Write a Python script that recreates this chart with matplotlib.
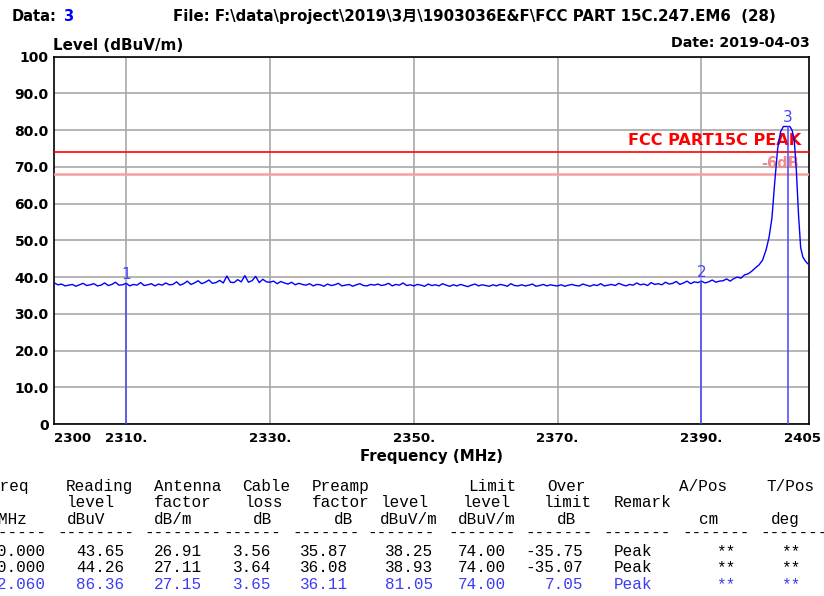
"""Radiated emission band-edge scan (FCC Part 15C), 2300-2405 MHz."""
import matplotlib
matplotlib.use("Agg")
import matplotlib.pyplot as plt
import numpy as np

W, H = 824, 596

# analyser sweep, 0.5 MHz step from 2300 MHz (noise floor part)
sweep_start = 2300.0
sweep_step = 0.5
sweep_levels = [
    38.4, 37.9, 38.1, 37.6, 37.8, 38.0, 37.5, 37.9, 38.3, 37.7,
    37.9, 38.2, 37.6, 37.8, 38.4, 37.7, 38.0, 38.6, 37.8, 37.9,
    38.3, 37.6, 38.0, 37.8, 38.5, 37.7, 37.9, 38.2, 37.6, 38.1,
    37.8, 38.4, 37.9, 38.0, 38.7, 37.8, 38.2, 38.9, 38.0, 38.4,
    39.0, 38.2, 38.6, 39.2, 38.3, 38.5, 39.1, 38.4, 40.3, 38.6,
    38.5, 39.3, 38.7, 40.4, 38.6, 39.0, 40.2, 38.5, 39.4, 38.7,
    38.6, 38.9, 38.2, 38.8, 38.4, 38.1, 38.6, 37.9, 38.3, 38.0,
    37.8, 38.2, 37.6, 38.0, 37.9, 37.5, 38.1, 37.7, 37.9, 38.3,
    37.6, 37.8, 38.0, 37.5, 37.9, 38.2, 37.7, 37.6, 38.0, 37.8,
    38.1, 37.7, 37.9, 38.3, 37.6, 38.0, 37.8, 38.4, 37.7, 37.9,
    37.6, 38.0, 37.8, 37.5, 38.1, 37.7, 37.9, 37.6, 38.2, 37.8,
    37.5, 37.9, 37.6, 38.0, 37.7, 37.4, 37.8, 38.1, 37.6, 37.9,
    37.7, 37.5, 37.9, 37.6, 38.0, 37.8, 37.5, 38.2, 37.7, 37.6,
    37.9, 37.6, 37.8, 38.1, 37.5, 37.7, 38.0, 37.6, 37.9, 37.7,
    37.6, 37.9, 37.5, 37.8, 38.0, 37.7, 37.6, 38.1, 37.8, 37.5,
    37.9, 37.7, 38.2, 37.6, 37.8, 38.0, 37.7, 38.3, 37.9, 37.6,
    38.0, 37.8, 38.4, 37.9, 38.1, 37.7, 38.5, 38.0, 38.2, 37.9,
    38.6, 38.1, 38.3, 38.8, 38.0, 38.4, 38.9, 38.2, 38.7, 38.5,
    38.9, 38.4, 38.7, 39.2, 38.6, 38.9,
]
# carrier skirt near the band edge
edge_freqs = [2393.0, 2393.5, 2394.0, 2394.5, 2395.0, 2395.5, 2396.0, 2396.5,
              2397.0, 2397.5, 2398.0, 2398.5, 2399.0, 2399.4, 2399.8, 2400.2,
              2400.6, 2401.0, 2401.4, 2402.3, 2402.6, 2402.9, 2403.2, 2403.5,
              2403.8, 2404.1, 2404.4, 2404.7, 2405.0]
edge_levels = [39.0, 39.5, 38.9, 39.6, 40.0, 39.7, 40.6, 40.9,
               41.6, 42.5, 43.3, 44.6, 47.5, 50.8, 56.0, 66.0,
               75.0, 79.5, 81.0, 81.0, 80.0, 77.5, 69.0, 57.0,
               48.0, 45.5, 44.5, 43.8, 43.3]

marker_ids = ["1", "2", "3"]
limit_level = 74.0
margin_db = 6.0
xtick_vals = [2310, 2330, 2350, 2370, 2390]
ytick_vals = [0, 10, 20, 30, 40, 50, 60, 70, 80, 90, 100]

# result table
freq_mhz = [2310.000, 2390.000, 2402.060]
reading = [43.65, 44.26, 86.36]
antenna = [26.91, 27.11, 27.15]
cable = [3.56, 3.64, 3.65]
preamp = [35.87, 36.08, 36.11]
level = [38.25, 38.93, 81.05]
limit = [74.00, 74.00, 74.00]
over = [-35.75, -35.07, 7.05]
remark = ["Peak", "Peak", "Peak"]
a_pos = ["**", "**", "**"]
t_pos = ["**", "**", "**"]

BLUE = "#0000ff"
MBLUE = "#4646ff"
SANS = ["DejaVu Sans", "Noto Sans CJK SC"]
MONO = "Liberation Mono"


def fx(px):
    return px / W


def fy(py):
    return 1 - py / H


fig = plt.figure(figsize=(W / 100, H / 100), dpi=100)
ax = fig.add_axes([fx(54.3), fy(424), (809.3 - 54.3) / W, (424 - 56.7) / H])

freqs = np.concatenate([sweep_start + sweep_step * np.arange(len(sweep_levels)), edge_freqs])
levels = np.concatenate([sweep_levels, edge_levels])

ax.set_xlim(2300, 2405)
ax.set_ylim(0, 100)
ax.set_xticks(xtick_vals)
ax.set_xticklabels([f"{v}." for v in xtick_vals])
ax.set_yticks(ytick_vals)
ax.set_yticklabels(["0" if v == 0 else "100" if v == 100 else f"{v:.1f}" for v in ytick_vals])
ax.tick_params(length=0, pad=4)
ax.tick_params(axis="x", labelsize=9.6, pad=6)
ax.tick_params(axis="y", labelsize=10)
for lab in ax.get_xticklabels() + ax.get_yticklabels():
    lab.set_fontweight("bold")
    lab.set_family(SANS)
ax.grid(color="#a8a8a8", lw=1.2)
ax.set_axisbelow(True)
for sp in ax.spines.values():
    sp.set_color("black")
    sp.set_linewidth(1.2)

# end labels of the frequency axis
ax.text(0.0, -0.04, "2300", transform=ax.transAxes, ha="left", va="center",
        fontsize=9.6, fontweight="bold", family=SANS)
ax.text(1.016, -0.04, "2405", transform=ax.transAxes, ha="right", va="center",
        fontsize=9.6, fontweight="bold", family=SANS)

# limit lines
ax.axhline(limit_level, color="#ff0000", lw=1.2, zorder=3)
ax.axhline(limit_level - margin_db, color="#f4a0a0", lw=1.8, zorder=3)
ax.text(0.989, limit_level + 1.2, "FCC PART15C PEAK", transform=ax.get_yaxis_transform(),
        ha="right", va="bottom", color="#ff0000", fontsize=11.6, fontweight="bold", family=SANS,
        zorder=4)
ax.text(0.987, limit_level - margin_db + 0.9, "-6dB", transform=ax.get_yaxis_transform(),
        ha="right", va="bottom", color="#f08a8a", fontsize=10.5, fontweight="bold", family=SANS,
        zorder=4)

# trace
ax.plot(freqs, levels, color=BLUE, lw=1.0, zorder=5)

# markers
for mid, f, v in zip(marker_ids, freq_mhz, level):
    ax.vlines(f, 0, v, color=MBLUE, lw=1.1, zorder=6)
    ax.text(f, v + 0.4, mid, ha="center", va="bottom", color=MBLUE, fontsize=11, family=SANS,
            zorder=6)

# header texts
fig.text(fx(11.7), fy(16.7), "Data:", ha="left", va="center", fontsize=10.5,
         fontweight="bold", family=SANS)
fig.text(fx(63), fy(16.7), "3", ha="left", va="center", fontsize=10.5,
         fontweight="bold", color="#0000ff", family=SANS)
fig.text(fx(474), fy(16.7), "File: F:\\data\\project\\2019\\3月\\1903036E&F\\FCC PART 15C.247.EM6  (28)",
         ha="center", va="center", fontsize=10.8, fontweight="bold", family=SANS)
fig.text(fx(53.3), fy(45.8), "Level (dBuV/m)", ha="left", va="center", fontsize=10.9,
         fontweight="bold", family=SANS)
fig.text(fx(809.3), fy(43.3), "Date: 2019-04-03", ha="right", va="center", fontsize=10.2,
         fontweight="bold", family=SANS)
fig.text(fx(432), fy(456), "Frequency (MHz)", ha="center", va="center", fontsize=10.8,
         fontweight="bold", family=SANS)


# ---- result table (monospace) ----
def put(x, y, s, ha="left", color="black"):
    fig.text(fx(x), fy(y), s, ha=ha, va="baseline", fontsize=11.5, family=MONO, color=color)


hdr1 = [("Freq", -10), ("Reading", 66), ("Antenna", 154), ("Cable", 242), ("Preamp", 312),
        ("Limit", 468), ("Over", 547), ("A/Pos", 679), ("T/Pos", 766)]
hdr2 = [("level", 67), ("factor", 154), ("loss", 245), ("factor", 312), ("level", 381),
        ("level", 463), ("limit", 544), ("Remark", 614)]
hdr3 = [("MHz", -2), ("dBuV", 67), ("dB/m", 154), ("dB", 253), ("dB", 334), ("dBuV/m", 380),
        ("dBuV/m", 458), ("dB", 557), ("cm", 699), ("deg", 771)]
dashes = [(-31, 8), (57, 8), (144, 8), (223, 6), (292, 7), (367, 7), (448, 7), (525, 7),
          (603, 7), (682, 7), (760, 7)]

for s, x in hdr1:
    put(x, 491, s)
for s, x in hdr2:
    put(x, 507, s)
for s, x in hdr3:
    put(x, 524, s)
for x, n in dashes:
    put(x, 538, "-" * n)

row_colors = ["black", "black", "#3c3cf0"]
row_y = [556, 572, 589]
for i in range(len(freq_mhz)):
    c, y = row_colors[i], row_y[i]
    put(46, y, f"{freq_mhz[i]:.3f}", "right", c)
    put(124, y, f"{reading[i]:.2f}", "right", c)
    put(202, y, f"{antenna[i]:.2f}", "right", c)
    put(271, y, f"{cable[i]:.2f}", "right", c)
    put(348, y, f"{preamp[i]:.2f}", "right", c)
    put(433, y, f"{level[i]:.2f}", "right", c)
    put(506, y, f"{limit[i]:.2f}", "right", c)
    put(583, y, f"{over[i]:.2f}", "right", c)
    put(614, y, remark[i], "left", c)
    put(716, y, a_pos[i], "left", c)
    put(781, y, t_pos[i], "left", c)

fig.savefig("out.png", dpi=100)
